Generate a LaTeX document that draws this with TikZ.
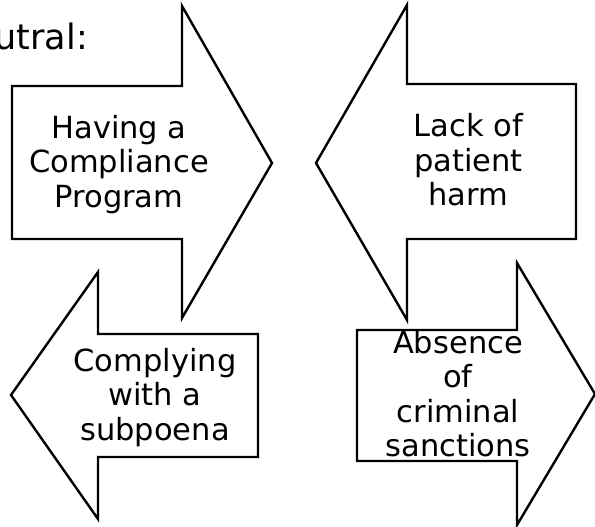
\documentclass[tikz,border=0pt]{standalone}
\usepackage{fontspec}
\newfontfamily\arrowfont{DejaVu Sans}
\tikzset{
	blockarrow/.style={draw=black,fill=white,line width=2.4pt,line join=miter},
	arrowtext/.style={align=center,inner sep=0pt,font={\arrowfont\fontsize{30.5}{34.5}\selectfont}},
}
\begin{document}
\begin{tikzpicture}[x=1pt,y=-1pt]
	\useasboundingbox (0,0) rectangle (595,527);
	\node[anchor=base east,inner sep=0pt,font={\arrowfont\fontsize{35}{42}\selectfont}] (heading) at (88,50) {utral:};
	\draw[blockarrow] (12,86) -- (182,86) -- (182,6) -- (272,163) -- (182,318) -- (182,239) -- (12,239) -- cycle;
	\draw[blockarrow] (576,84) -- (407,84) -- (407,5) -- (316,163) -- (407,320) -- (407,239) -- (576,239) -- cycle;
	\draw[blockarrow] (258,334) -- (98,334) -- (98,272) -- (11,395) -- (98,519) -- (98,457) -- (258,457) -- cycle;
	\draw[blockarrow] (357,330) -- (517,330) -- (517,263) -- (595,394) -- (517,525) -- (517,461) -- (357,461) -- cycle;
	\node[arrowtext] (program) at (119,164.5) {Having a\\Compliance\\Program};
	\node[arrowtext] (harm) at (468.5,160) {Lack of\\patient\\harm};
	\node[arrowtext] (subpoena) at (155,397.5) {Complying\\with a\\subpoena};
	\node[arrowtext] (sanctions) at (458,393.5) {Absence\\of\\criminal\\sanctions};
\end{tikzpicture}
\end{document}
